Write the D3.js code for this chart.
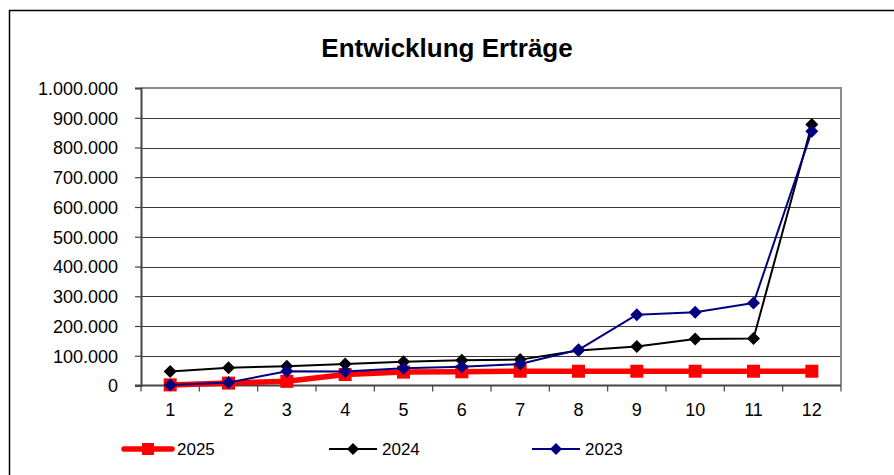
<!DOCTYPE html>
<html><head><meta charset="utf-8">
<script src="https://cdn.jsdelivr.net/npm/d3@7"></script>
<style>body{margin:0;background:#fff}svg{display:block}text{font-family:"Liberation Sans",Arial,sans-serif}</style>
</head><body>
<script>
const months = [1,2,3,4,5,6,7,8,9,10,11,12];
const values2025 = [2000,8000,14000,37000,45000,46000,48000,48000,48000,48000,48000,48000];
const values2024 = [47000,60000,65000,72000,80000,85000,87000,118000,131000,156000,158000,877000];
const values2023 = [2000,10000,48000,47000,58000,63000,72000,120000,238000,246000,277000,855000];
const seriesNames = ["2025","2024","2023"];
const yTicks = [0,100000,200000,300000,400000,500000,600000,700000,800000,900000,1000000];
const title = "Entwicklung Erträge";

const W=894,H=475;
const svg=d3.select("body").append("svg").attr("width",W).attr("height",H);
svg.append("rect").attr("x",9.5).attr("y",10.5).attr("width",W).attr("height",H).attr("fill","#fff").attr("stroke","#000").attr("stroke-width",1.5);

const L=141,R=841,T=88,B=385.5;
const x=d3.scaleBand().domain(months).range([L,R]).padding(0);
const y=d3.scaleLinear().domain([0,1000000]).range([B,T]);
const loc=d3.formatLocale({decimal:",",thousands:".",grouping:[3],currency:["","€"]});
const fmt=loc.format(",d");

svg.append("text").attr("x",447).attr("y",57).attr("text-anchor","middle").attr("font-size",26).attr("font-weight","bold").text(title);

// gridlines
svg.append("g").selectAll("line").data(yTicks.filter(d=>d>0)).join("line")
  .attr("x1",L).attr("x2",R).attr("y1",d=>Math.round(y(d))+0.5).attr("y2",d=>Math.round(y(d))+0.5)
  .attr("stroke","#3a3a3a").attr("stroke-width",1);
// plot border right/top
svg.append("path").attr("d",`M${L},${T}H${R}V${B}`).attr("fill","none").attr("stroke","#8c8c8c").attr("stroke-width",2);

// y axis
const ya=svg.append("g").attr("transform",`translate(${L},0)`)
  .call(d3.axisLeft(y).tickValues(yTicks).tickFormat(fmt).tickSize(6).tickPadding(17));
ya.select(".domain").attr("stroke","#444").attr("stroke-width",2);
ya.selectAll(".tick line").attr("stroke","#444").attr("stroke-width",1.2);
ya.selectAll("text").attr("font-size",18).attr("fill","#000").attr("dy","0.35em");

// x axis
const xa=svg.append("g").attr("transform",`translate(0,${B})`);
xa.append("line").attr("x1",L-6).attr("x2",R).attr("y1",0).attr("y2",0).attr("stroke","#444").attr("stroke-width",2);
xa.selectAll("line.t").data(months.concat([13])).join("line").attr("class","t")
  .attr("x1",d=>d<=12?x(d):R).attr("x2",d=>d<=12?x(d):R).attr("y1",0).attr("y2",6).attr("stroke","#444").attr("stroke-width",1.2);
xa.selectAll("text").data(months).join("text").attr("x",d=>x(d)+x.bandwidth()/2).attr("y",30)
  .attr("text-anchor","middle").attr("font-size",18).text(d=>d);

const cx=d=>x(d)+x.bandwidth()/2;
const series=[
  {name:seriesNames[0],vals:values2025,color:"#ff0000",w:5.5,marker:"square",ms:13},
  {name:seriesNames[1],vals:values2024,color:"#000000",w:2,marker:"diamond",ms:13},
  {name:seriesNames[2],vals:values2023,color:"#000080",w:2,marker:"diamond",ms:13}
];
const line=d3.line().x((v,i)=>cx(months[i])).y(v=>y(v));
function marker(g,type,px,py,s,color){
  if(type==="square") g.append("rect").attr("x",px-s/2).attr("y",py-s/2).attr("width",s).attr("height",s).attr("fill",color);
  else g.append("path").attr("d",`M${px},${py-s/2}L${px+s/2},${py}L${px},${py+s/2}L${px-s/2},${py}Z`).attr("fill",color);
}
series.forEach(s=>{
  const g=svg.append("g");
  g.append("path").attr("d",line(s.vals)).attr("fill","none").attr("stroke",s.color).attr("stroke-width",s.w).attr("stroke-linejoin","round");
  s.vals.forEach((v,i)=>marker(g,s.marker,cx(months[i]),y(v),s.ms,s.color));
});

// legend
const legX=[124,329,532];
series.forEach((s,i)=>{
  const g=svg.append("g");
  const ly=449;
  g.append("line").attr("x1",legX[i]).attr("x2",legX[i]+48).attr("y1",ly).attr("y2",ly).attr("stroke",s.color).attr("stroke-width",s.w).attr("stroke-linecap",i===0?"round":"butt");
  marker(g,s.marker,legX[i]+24,ly,s.marker==="square"?12:12,s.color);
  g.append("text").attr("x",legX[i]+53).attr("y",ly).attr("dy","0.35em").attr("font-size",17).text(s.name);
});
</script>
</body></html>
